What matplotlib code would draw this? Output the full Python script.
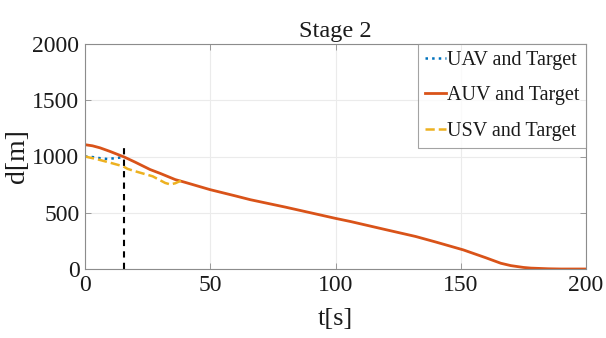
import matplotlib
matplotlib.use("Agg")
import matplotlib.pyplot as plt
import numpy as np

plt.rcParams['font.family'] = ['Liberation Serif', 'DejaVu Serif']
plt.rcParams['mathtext.fontset'] = 'stix'

# Data
uav_t = [0, 3, 6, 9, 12, 15.7]
uav_d = [1000, 995, 985, 978, 985, 995]

auv_t = [0, 3, 6, 10, 15.7, 20, 26, 30, 36, 40, 50, 60, 66, 80, 90, 100, 106, 120, 132, 140, 151, 160, 166, 170, 175, 178, 185, 190, 200]
auv_d = [1105, 1095, 1077, 1045, 995, 950, 884, 850, 795, 770, 705, 650, 616, 550, 500, 450, 422, 350, 289, 240, 170, 100, 51, 30, 14, 8, 2, 0, 0]

usv_t = [0, 5, 10, 15.2, 17, 20, 27, 32, 34, 36, 38.3]
usv_d = [1000, 975, 945, 913, 890, 869, 824, 765, 752, 762, 785]

stage_t = 15.7
stage_top = 1092

c_uav = (0.0, 0.447, 0.741)
c_auv = (0.85, 0.325, 0.098)
c_usv = (0.929, 0.694, 0.125)

fig = plt.figure(figsize=(6.06, 3.38), dpi=100)
ax = fig.add_axes([85/606, 1-269/338, 501/606, 225/338])

ax.plot(uav_t, uav_d, ':', color=c_uav, lw=1.8, label='UAV and Target')
ax.plot(auv_t, auv_d, '-', color=c_auv, lw=2.0, label='AUV and Target')
ax.plot(usv_t, usv_d, '--', color=c_usv, lw=1.8, label='USV and Target')
ax.plot([stage_t, stage_t], [0, stage_top], color='black', lw=1.5,
        linestyle=(0, (3, 2.5)))

ax.set_xlim(0, 200)
ax.set_ylim(0, 2000)
ax.set_xticks([0, 50, 100, 150, 200])
ax.set_yticks([0, 500, 1000, 1500, 2000])
ax.grid(True, color='#ebebeb', lw=0.8)
ax.set_axisbelow(True)
for s in ax.spines.values():
    s.set_color('#8c8c8c')
    s.set_linewidth(0.8)
ax.tick_params(direction='in', labelsize=17, length=4, width=0.6,
               colors='#8c8c8c', labelcolor='#1a1a1a', pad=4,
               top=True, right=True)

ax.set_xlabel('t[s]', fontsize=19, labelpad=9, color='#1a1a1a')
ax.set_ylabel('d[m]', fontsize=20, labelpad=2, color='#1a1a1a')
ax.set_title('Stage 2', fontsize=17.5, pad=5, color='#1a1a1a')

leg = ax.legend(loc='upper right', fontsize=14.5, frameon=True, fancybox=False,
                edgecolor='#8c8c8c', handlelength=1.0, handletextpad=0.05,
                borderpad=0.35, labelspacing=0.8, borderaxespad=0.0)
leg.get_frame().set_linewidth(0.8)
for t in leg.get_texts():
    t.set_color('#1a1a1a')

fig.savefig('out.png', dpi=100)
